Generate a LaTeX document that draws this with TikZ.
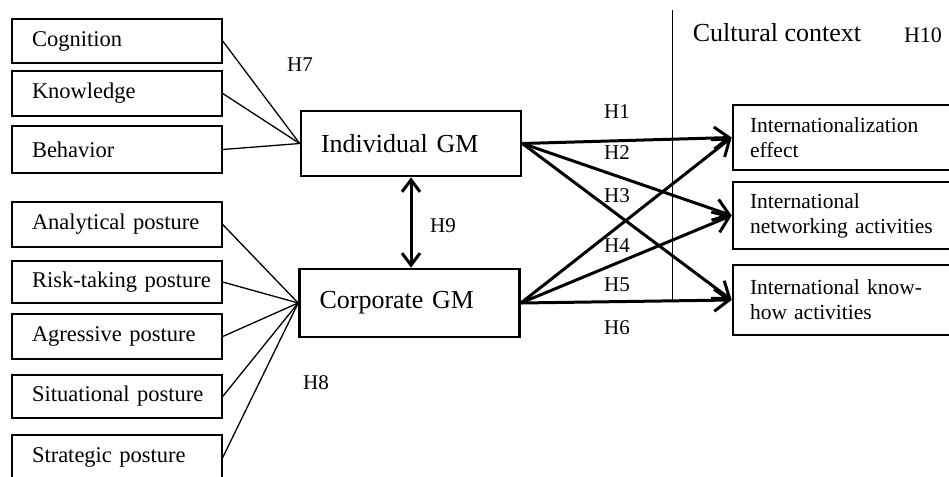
\documentclass[tikz,border=0pt]{standalone}
\usepackage{fontspec}
\setmainfont{Liberation Serif}
\usetikzlibrary{arrows.meta}
\begin{document}
\begin{tikzpicture}[x=1pt,y=-1pt,
  factor/.style={draw, line width=1.4pt, minimum width=210pt, text width=194pt,
    inner xsep=8pt, inner ysep=0pt, align=left,
    execute at begin node={\hspace*{12pt}},
    font=\fontsize{22.5}{26}\selectfont},
  gm/.style={draw, line width=2.7pt, minimum width=220pt, text width=180pt,
    inner xsep=20pt, inner ysep=0pt, align=left,
    font=\fontsize{26}{30}\selectfont},
  outcome/.style={draw, line width=2.7pt, minimum width=232pt, text width=198pt,
    inner xsep=17pt, inner ysep=0pt, align=left,
    font=\fontsize{21.5}{25}\selectfont},
  hyp/.style={inner sep=0pt, font=\fontsize{21}{24}\selectfont},
  link/.style={line width=1.3pt},
  effect/.style={line width=3pt, -{Straight Barb[length=15pt,width=22pt,line width=3pt]}},
  mutual/.style={line width=3pt, {Straight Barb[length=12pt,width=18pt,line width=3pt]}-{Straight Barb[length=12pt,width=18pt,line width=3pt]}},
]
\useasboundingbox (0,0) rectangle (949,476);

% individual global mindset components
\node[factor, minimum height=44pt] (cog) at (117,41) {Cognition};
\node[factor, minimum height=45pt] (kno) at (117,93.5) {Knowledge};
\node[factor, minimum height=47pt] (beh) at (117,149.5) {Behavior};

% corporate global mindset postures
\node[factor, minimum height=45pt] (ana) at (117,224.5) {Analytical posture};
\node[factor, minimum height=42pt] (ris) at (117,282) {Risk-taking posture};
\node[factor, minimum height=45pt] (agr) at (117,336.5) {Agressive posture};
\node[factor, minimum height=43pt] (sit) at (117,396.5) {Situational posture};
\node[factor, minimum height=45pt] (str) at (117,457.5) {Strategic posture};

% the two global mindset constructs
\node[gm, minimum height=65pt] (ind) at (411,143.5) {Individual GM};
\node[gm, minimum height=68pt] (cor) at (409.5,303) {Corporate GM};

% internationalization outcomes
\node[outcome, minimum height=65pt] (eff) at (849,137.5) {Internationalization\\effect};
\node[outcome, minimum height=67pt] (net) at (849,215.5) {International\\networking activities};
\node[outcome, minimum height=70pt] (kh) at (849,300) {International know-\\how activities};

% cultural context divider
\coordinate (ctop) at (672,10);
\coordinate (cbot) at (672,300);
\draw[line width=1pt] (ctop) -- (cbot);
\node[inner sep=0pt, font=\fontsize{26}{30}\selectfont] (ctx) at (777,33) {Cultural context};
\node[inner sep=0pt, font=\fontsize{22}{26}\selectfont] (h10) at (923,35) {H10};

% components feeding the constructs
\foreach \b in {cog,kno,beh} \draw[link] (\b.east) -- (ind.west);
\foreach \b in {ana,ris,agr,sit,str} \draw[link] (\b.east) -- (cor.west);

% hypothesised effects
\draw[effect] (ind.east) -- (eff.west);
\draw[effect] (ind.east) -- (net.west);
\draw[effect] (ind.east) -- (kh.west);
\draw[effect] (cor.east) -- (eff.west);
\draw[effect] (cor.east) -- (net.west);
\draw[effect] (cor.east) -- (kh.west);
\draw[mutual] (ind.south) -- (ind.south |- cor.north);

% hypothesis labels
\node[hyp] (h7) at (300,65) {H7};
\node[hyp] (h8) at (316,383) {H8};
\node[hyp] (h9) at (443,226) {H9};
\node[hyp] (h1) at (617,112) {H1};
\node[hyp] (h2) at (617,153) {H2};
\node[hyp] (h3) at (617,196) {H3};
\node[hyp] (h4) at (617,246) {H4};
\node[hyp] (h5) at (617,285) {H5};
\node[hyp] (h6) at (617,328) {H6};
\end{tikzpicture}
\end{document}
